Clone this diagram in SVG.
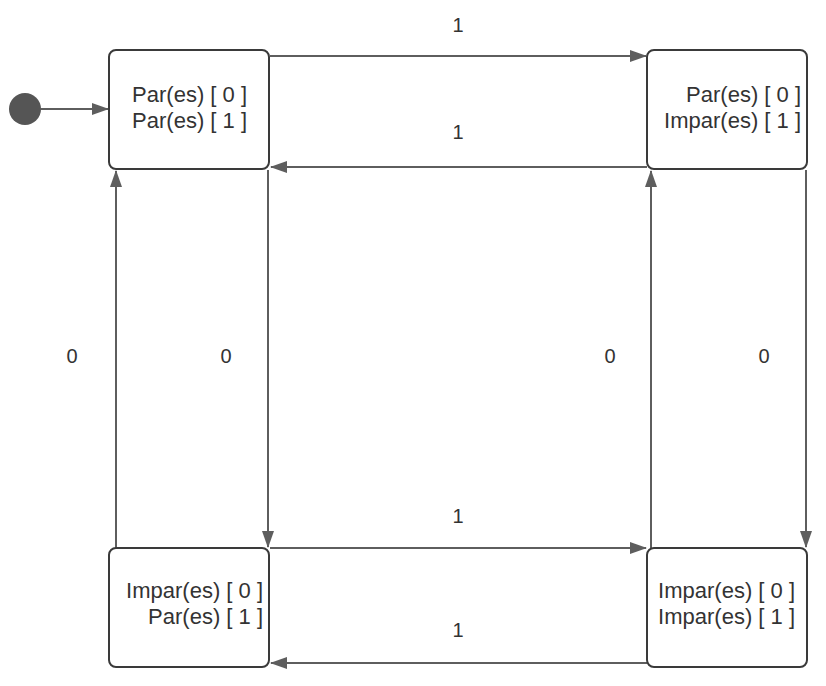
<svg xmlns="http://www.w3.org/2000/svg" width="826" height="686" viewBox="0 0 826 686">
<style>
.box{fill:#fff;stroke:#3a3a3a;stroke-width:2}
.t{font-family:"Liberation Sans",Arial,sans-serif;font-size:22px;fill:#333;text-anchor:end}
.lbl{font-family:"Liberation Sans",Arial,sans-serif;font-size:20px;fill:#333;text-anchor:middle}
.e{stroke:#5e5e5e;stroke-width:2;fill:none;marker-end:url(#ah)}
</style>
<defs>
<marker id="ah" markerWidth="17" markerHeight="12" refX="16" refY="6" orient="auto" markerUnits="userSpaceOnUse">
<path d="M0,0 L17,6 L0,12 Z" fill="#5e5e5e"/>
</marker>
</defs>
<rect width="826" height="686" fill="#fff"/>
<g id="connectors">
<circle cx="25" cy="109" r="16" fill="#555"/>
<line class="e" x1="41" y1="109" x2="108" y2="109"/>
<line class="e" x1="270" y1="56" x2="646" y2="56"/>
<line class="e" x1="647" y1="167" x2="271" y2="167"/>
<line class="e" x1="268" y1="170" x2="268" y2="547"/>
<line class="e" x1="116" y1="548" x2="116" y2="171"/>
<line class="e" x1="651" y1="548" x2="651" y2="171"/>
<line class="e" x1="806" y1="170" x2="806" y2="547"/>
<line class="e" x1="270" y1="548" x2="646" y2="548"/>
<line class="e" x1="647" y1="663" x2="271" y2="663"/>
<text class="lbl" x="458" y="32">1</text>
<text class="lbl" x="458" y="139">1</text>
<text class="lbl" x="72" y="363">0</text>
<text class="lbl" x="226" y="363">0</text>
<text class="lbl" x="610" y="363">0</text>
<text class="lbl" x="764" y="363">0</text>
<text class="lbl" x="458" y="523">1</text>
<text class="lbl" x="458" y="637">1</text>
</g>
<g id="n1">
<rect class="box" x="109" y="50" width="160" height="119" rx="7"/>
<text class="t" x="247" y="102">Par(es) [ 0 ]</text>
<text class="t" x="247" y="128">Par(es) [ 1 ]</text>
</g>
<g id="n2">
<rect class="box" x="647" y="50" width="160" height="119" rx="7"/>
<text class="t" x="801" y="102">Par(es) [ 0 ]</text>
<text class="t" x="801" y="128">Impar(es) [ 1 ]</text>
</g>
<g id="n3">
<rect class="box" x="109" y="548" width="160" height="119" rx="7"/>
<text class="t" x="263" y="598">Impar(es) [ 0 ]</text>
<text class="t" x="263" y="624">Par(es) [ 1 ]</text>
</g>
<g id="n4">
<rect class="box" x="647" y="548" width="160" height="119" rx="7"/>
<text class="t" x="795" y="598">Impar(es) [ 0 ]</text>
<text class="t" x="795" y="624">Impar(es) [ 1 ]</text>
</g>
</svg>
